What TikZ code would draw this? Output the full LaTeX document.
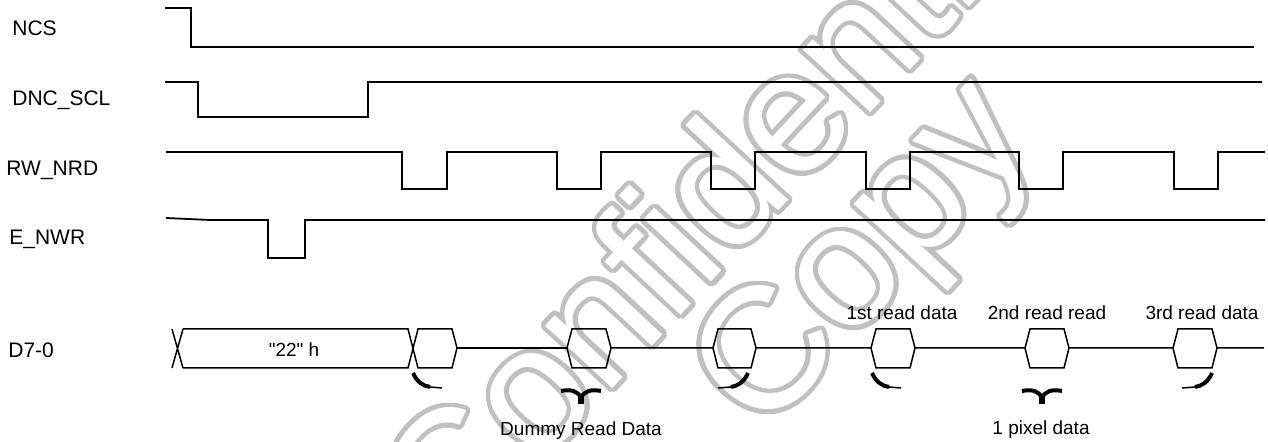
\documentclass[tikz,border=0pt]{standalone}
\usepackage{fontspec}
\setmainfont{Liberation Sans}
\newfontfamily\plainsans{Liberation Sans}
\definecolor{wmgray}{RGB}{192,192,192}
\tikzset{signal/.style={line width=0.9pt},
         bus/.style={line width=0.75pt},
         bracebit/.style={line width=2pt},
         sig label/.style={anchor=base west, inner sep=0pt, font=\fontsize{10.5}{12}\selectfont},
         data label/.style={anchor=base, inner sep=0pt, font=\fontsize{9.5}{11}\selectfont},
         wm/.style={anchor=base west, inner sep=0pt, rotate=47, font=\fontsize{87}{87}\selectfont}}

\begin{document}
\begin{tikzpicture}[x=0.5pt,y=-0.5pt]
    \useasboundingbox (0,0) rectangle (1268,442);
    \clip (0,0) rectangle (1268,442);
    % watermark, outline made of shifted copies
    \foreach \a in {0,15,...,345}{
      \node[wm, text=wmgray, shift={(\a:4.5)}] at (453,560) {Confidential};
      \node[wm, text=wmgray, shift={(\a:4.5)}] at (762,438) {Copy};
    }
    \node[wm, text=white] (conf) at (453,560) {Confidential};
    \node[wm, text=white] (copy) at (762,438) {Copy};
    % signal names
    \node[sig label] (ncs) at (12,36) {NCS};
    \node[sig label] (dnc) at (12,106) {DNC\_SCL};
    \node[sig label] (rw) at (6,176) {RW\_NRD};
    \node[sig label] (enwr) at (9,245) {E\_NWR};
    \node[sig label] (data) at (8,358) {D7-0};
    % waveforms
    \draw[signal] (165,8) -- (191,8) -- (191,47) -- (1254,47);
    \draw[signal] (165,82) -- (198,82) -- (198,117) -- (368,117) -- (368,82) -- (1262,82);
    \draw[signal] (166,152) \foreach \a/\b in {402/447,557/601,711/755,866/910,1019/1063,1174/1218}{
      -- (\a,152) -- (\a,189) -- (\b,189) -- (\b,152)} -- (1265,152);
    \draw[signal] (166,218) -- (210,220) -- (268,220) -- (268,258) -- (305,258) -- (305,220) -- (1265,220);
    % data bus
    \draw[bus] (172,329) -- (183,368) (172,368) -- (183,329);
    \draw[bus] (183,329) -- (408,329) -- (418,368) -- (452,368) -- (457,348) -- (452,329)
      -- (418,329) -- (408,368) -- (183,368);
    \node[data label] (cmd) at (294,357) {\plainsans "22" h};
    \draw[bus] (457,348) -- (567,348);
    \foreach \l/\r/\n in {567/611/713, 713/756/871, 871/915/1025, 1025/1069/1173, 1173/1217/1264}
      \draw[bus] (\l,348) -- ({\l+5},329) -- ({\r-5},329) -- (\r,348) -- ({\r-5},368)
        -- ({\l+5},368) -- cycle (\r,348) -- (\n,348);
    \node[data label] (rd1) at (902,320) {1st read data};
    \node[data label] (rd2) at (1047,320) {2nd read read};
    \node[data label] (rd3) at (1202,320) {3rd read data};
    % brace pieces
    \foreach \l/\m/\r in {413/581/748, 872/1042/1212}{
      \draw[bracebit] (\l,373) .. controls ({\l+4},382) and ({\l+10},386) .. ({\l+17},387);
      \draw[bus] ({\l+17},387) -- ({\l+29},388);
      \draw[bracebit] ({\m-20},391) .. controls ({\m-10},389) and ({\m-3},391) .. (\m,398);
      \draw[bracebit] ({\m+20},391) .. controls ({\m+10},389) and ({\m+3},391) .. (\m,398);
      \draw[line width=2.6pt] (\m,395) -- (\m,404);
      \draw[bracebit] (\r,373) .. controls ({\r-4},382) and ({\r-10},386) .. ({\r-17},387);
      \draw[bus] ({\r-17},387) -- ({\r-30},388);
    }
    \node[data label] (dummy) at (581,436) {Dummy Read Data};
    \node[data label] (pixel) at (1041,435) {1 pixel data};
\end{tikzpicture}
\end{document}
